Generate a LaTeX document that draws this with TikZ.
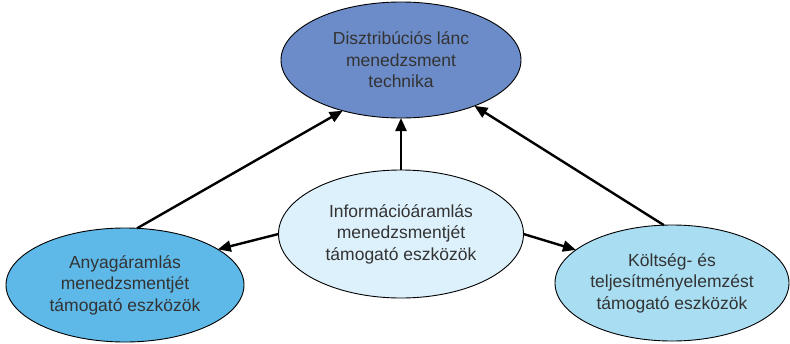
\documentclass[tikz,border=0pt]{standalone}
\usepackage{fontspec}
\setmainfont{Liberation Sans}
\usetikzlibrary{shapes.geometric,arrows.meta}
\definecolor{topblue}{HTML}{6C8CC9}
\definecolor{leftblue}{HTML}{5EB9E8}
\definecolor{midblue}{HTML}{DDF1FC}
\definecolor{rightblue}{HTML}{A9DEF2}
\definecolor{txt}{HTML}{333333}
\begin{document}
\begin{tikzpicture}[x=1pt,y=-1pt,
  oval/.style={ellipse,draw=black,line width=0.9pt,inner sep=0pt,outer sep=0pt,
    text=txt,align=center,font=\fontsize{17.5}{21.5}\selectfont},
  arr/.style={line width=2.4pt,-{Triangle[length=13pt,width=11pt]}}]
\useasboundingbox (0,0) rectangle (790,343);
\node[oval,fill=topblue,minimum width=240pt,minimum height=116pt] (T) at (401,60)
  {Disztribúciós lánc\\menedzsment\\technika};
\node[oval,fill=midblue,minimum width=245pt,minimum height=128pt] (C) at (401,234)
  {Információáramlás\\menedzsmentjét\\támogató eszközök};
\node[oval,fill=leftblue,minimum width=238pt,minimum height=114pt] (L) at (125,285)
  {Anyagáramlás\\menedzsmentjét\\támogató eszközök};
\node[oval,fill=rightblue,minimum width=234pt,minimum height=116pt] (R) at (672,283)
  {Költség- és\\teljesítményelemzést\\támogató eszközök};
\draw[arr] (L.78) -- (T.221);
\draw[arr] (R.98) -- (T.328);
\draw[arr] (C.north) -- (T.south);
\draw[arr] (C.180) -- (L.21);
\draw[arr] (C.0) -- (R.161);
\end{tikzpicture}
\end{document}
